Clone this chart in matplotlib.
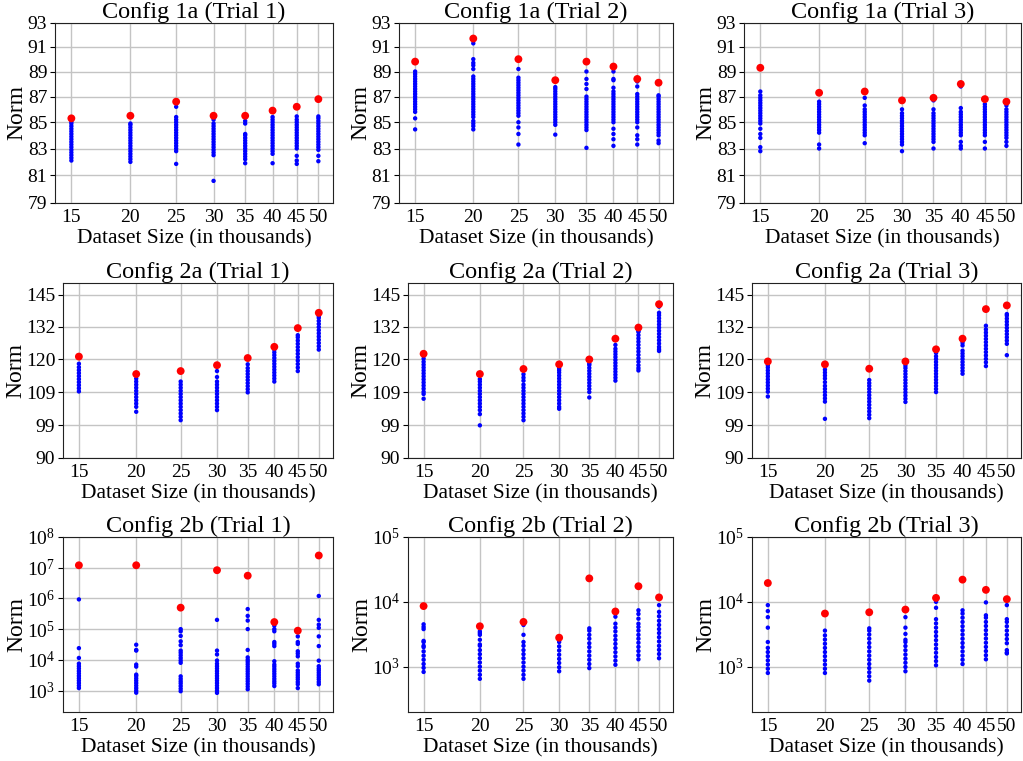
import matplotlib
matplotlib.use("Agg")
import matplotlib.pyplot as plt
from matplotlib.ticker import FixedLocator, FixedFormatter, NullLocator, LogLocator, LogFormatterSciNotation

plt.rcParams['font.family'] = ['Liberation Serif', 'DejaVu Serif']
plt.rcParams['mathtext.fontset'] = 'stix'

sizes = [15, 20, 25, 30, 35, 40, 45, 50]
size_labels = ['15', '20', '25', '30', '35', '40', '45', '50']

titles = ['Config 1a (Trial 1)', 'Config 1a (Trial 2)', 'Config 1a (Trial 3)',
          'Config 2a (Trial 1)', 'Config 2a (Trial 2)', 'Config 2a (Trial 3)',
          'Config 2b (Trial 1)', 'Config 2b (Trial 2)', 'Config 2b (Trial 3)']

c1a_t1_blue = [
    [82.1, 82.3, 82.5, 82.7, 82.9, 83.1, 83.3, 83.5, 83.7, 83.9, 84.1, 84.3, 84.5, 84.7, 84.9, 85.05],
    [82.0, 82.2, 82.4, 82.6, 82.8, 83.0, 83.2, 83.4, 83.6, 83.8, 84.0, 84.2, 84.4, 84.6, 84.8, 84.9],
    [81.85, 82.8, 83.0, 83.2, 83.4, 83.6, 83.8, 84.0, 84.2, 84.4, 84.6, 84.8, 85.0, 85.2, 85.4, 86.2],
    [80.6, 82.5, 82.7, 82.9, 83.1, 83.3, 83.5, 83.7, 83.9, 84.1, 84.3, 84.5, 84.7, 84.9, 85.2],
    [81.9, 82.2, 82.4, 82.6, 82.8, 83.0, 83.2, 83.4, 83.6, 83.8, 84.0, 84.1, 84.9, 85.1],
    [81.9, 82.6, 82.8, 83.0, 83.2, 83.4, 83.6, 83.8, 84.0, 84.2, 84.4, 84.6, 84.8, 85.0, 85.2, 85.4],
    [81.85, 82.1, 82.45, 83.0, 83.2, 83.4, 83.6, 83.8, 84.0, 84.2, 84.4, 84.6, 84.8, 85.0, 85.2, 85.45],
    [82.05, 82.45, 82.9, 83.1, 83.3, 83.5, 83.7, 83.9, 84.1, 84.3, 84.5, 84.7, 84.9, 85.1, 85.3, 85.45],
]
c1a_t1_red = [85.3, 85.5, 86.6, 85.5, 85.5, 85.9, 86.2, 86.8]

c1a_t2_blue = [
    [84.45, 85.3, 85.8, 86.0, 86.2, 86.4, 86.6, 86.8, 87.0, 87.2, 87.4, 87.6, 87.8, 88.0, 88.2, 88.4, 88.6, 88.8, 89.0],
    [84.45, 84.7, 84.9, 85.1, 85.4, 85.6, 85.8, 86.0, 86.2, 86.4, 86.6, 86.8, 87.0, 87.2, 87.4, 87.6, 87.8, 88.0, 88.2, 88.4, 88.6, 89.2, 89.5, 89.7, 90.0, 91.3],
    [83.3, 84.1, 84.6, 85.0, 85.5, 85.7, 85.9, 86.1, 86.3, 86.5, 86.7, 86.9, 87.1, 87.3, 87.5, 87.7, 87.9, 88.1, 88.3, 88.5, 89.2],
    [84.05, 84.8, 85.0, 85.2, 85.4, 85.6, 85.8, 86.0, 86.2, 86.4, 86.6, 86.8, 87.0, 87.2, 87.4, 87.6, 87.75],
    [83.05, 84.4, 84.6, 84.8, 85.0, 85.2, 85.4, 85.6, 85.8, 86.0, 86.2, 86.4, 86.6, 86.8, 87.0, 87.6, 88.0, 88.4, 89.0],
    [83.2, 83.7, 84.1, 84.5, 85.0, 85.2, 85.4, 85.6, 85.8, 86.0, 86.2, 86.4, 86.6, 86.8, 87.0, 87.2, 87.4, 87.7, 88.3, 88.4, 89.0],
    [83.3, 83.7, 84.0, 84.6, 85.0, 85.2, 85.4, 85.6, 85.8, 86.0, 86.2, 86.4, 86.6, 86.8, 87.0, 87.2, 87.8, 88.2],
    [83.4, 83.6, 84.0, 84.2, 84.4, 84.6, 84.8, 85.0, 85.2, 85.4, 85.6, 85.8, 86.0, 86.2, 86.4, 86.6, 86.8, 87.0, 87.1],
]
c1a_t2_red = [89.8, 91.7, 90.0, 88.3, 89.8, 89.4, 88.4, 88.1]

c1a_t3_blue = [
    [82.8, 83.1, 83.8, 84.1, 84.5, 84.9, 85.1, 85.3, 85.5, 85.7, 85.9, 86.1, 86.3, 86.5, 86.7, 86.9, 87.1, 87.4],
    [83.0, 83.3, 84.2, 84.4, 84.6, 84.8, 85.0, 85.2, 85.4, 85.6, 85.8, 86.0, 86.2, 86.4, 86.6],
    [83.4, 84.0, 84.2, 84.4, 84.6, 84.8, 85.0, 85.2, 85.4, 85.6, 85.8, 86.0, 86.3, 86.9],
    [82.8, 83.3, 83.5, 83.7, 83.9, 84.1, 84.3, 84.5, 84.7, 84.9, 85.1, 85.3, 85.5, 85.7, 86.0, 86.6],
    [83.0, 83.5, 83.7, 83.9, 84.1, 84.3, 84.5, 84.7, 84.9, 85.1, 85.3, 85.5, 85.7, 86.0, 86.7],
    [83.0, 83.2, 83.5, 84.0, 84.2, 84.4, 84.6, 84.8, 85.0, 85.2, 85.4, 85.6, 85.8, 86.1, 87.8],
    [83.0, 83.5, 84.0, 84.2, 84.4, 84.6, 84.8, 85.0, 85.2, 85.4, 85.6, 85.8, 86.0, 86.2, 86.4],
    [83.2, 83.5, 83.8, 84.0, 84.2, 84.4, 84.6, 84.8, 85.0, 85.2, 85.4, 85.6, 85.8, 86.0, 86.3],
]
c1a_t3_red = [89.3, 87.3, 87.4, 86.7, 86.9, 88.0, 86.8, 86.6]

c2a_t1_blue = [
    [109.3, 110.3, 111.3, 112.3, 113.3, 114.3, 115.3, 116.3, 117.3, 118.5],
    [103, 104.5, 105.5, 106.5, 107.5, 108.5, 109.5, 110.5, 111.5, 112.5, 113.5],
    [100.5, 101.5, 102.5, 103.5, 104.5, 105.5, 106.5, 107.5, 108.5, 109.5, 110.5, 111.5, 112.5],
    [103.5, 104.5, 105.5, 106.5, 107.5, 108.5, 109.5, 110.5, 111.5, 112.5, 114, 116],
    [109, 110, 111, 112, 113, 114, 115, 116, 117, 118.3],
    [112.5, 113.5, 114.5, 115.5, 116.5, 117.5, 118.5, 119.5, 120.5, 121.5, 122.5, 123.5],
    [116, 117.2, 118.4, 119.6, 120.8, 122, 123.2, 124.4, 125.6, 126.8, 128, 128.8],
    [123.5, 124.7, 125.9, 127.1, 128.3, 129.5, 130.7, 131.9, 133.1, 134.3, 135.5, 136.2],
]
c2a_t1_red = [121, 115, 116, 118, 120.5, 124.5, 131.5, 137.5]

c2a_t2_blue = [
    [107, 108.5, 109.2, 110.2, 111.2, 112.2, 113.2, 114.2, 115.2, 116.2, 117.2, 118.2, 119.2, 120.3],
    [99, 102.3, 103.5, 104.5, 105.5, 106.5, 107.5, 108.5, 109.5, 110.5, 111.5, 112.5, 113.3],
    [100.5, 101.5, 102.5, 103.5, 104.5, 105.5, 106.5, 107.5, 108.5, 109.5, 110.5, 111.5, 112.8, 113.8, 114.9],
    [103.9, 104.5, 105.5, 106.5, 107.5, 108.5, 109.5, 110.5, 111.5, 112.5, 113.5, 114.5, 115.5, 116.3, 117],
    [107.4, 109.1, 110.1, 111.1, 112.1, 113.1, 114.1, 115.1, 116.1, 117.1, 118.1, 118.6],
    [112.8, 113.8, 114.8, 115.8, 116.8, 117.8, 118.8, 119.8, 120.8, 121.8, 122.8, 123.8, 125.2],
    [116.2, 117, 118, 119.2, 120.4, 121.6, 122.8, 124, 125.2, 126.4, 127.6, 128.8, 130, 130.5],
    [123, 123.6, 124.5, 125.7, 126.9, 128.1, 129.3, 130.5, 131.7, 132.9, 134.1, 135.3, 136.5, 137.5, 140],
]
c2a_t2_red = [122, 115, 116.7, 118.3, 120, 127.5, 131.7, 141]

c2a_t3_blue = [
    [107.7, 109.2, 110.2, 111.2, 112.2, 113.2, 114.2, 115.2, 116.2, 117.2, 118],
    [100.9, 106.1, 107.1, 108.1, 109.1, 110.1, 111.1, 112.3, 113.5, 114.5, 115.5, 116.5],
    [101.1, 102.1, 103.1, 104.1, 105.1, 106.1, 107.1, 108.1, 109.1, 110.1, 111.1, 112, 113],
    [106, 107, 108, 109, 110, 111, 112, 113, 114, 115, 116, 117, 117.8],
    [109.1, 110.1, 111.1, 112.1, 113.1, 114.1, 115.1, 116.1, 117.1, 118.1, 119.1, 120.1, 121.1, 122.3],
    [115.1, 116.1, 117.1, 118.1, 119.1, 120.1, 121.1, 122.1, 123.1, 125, 126],
    [117.7, 119, 120.2, 121.4, 122.6, 123.8, 125, 126.2, 127.4, 128.6, 129.8, 131, 132.4],
    [121.5, 125.6, 126.8, 128, 129.2, 130.4, 131.6, 132.8, 134, 135.2, 136.4, 137],
]
c2a_t3_red = [119.3, 118.3, 116.8, 119.3, 123.6, 127.5, 139, 140.5]

c2b_t1_blue = [
    [1200, 1450, 1750, 2100, 2500, 3000, 3600, 4300, 5200, 6200, 7500, 11500, 24000, 930000],
    [850, 1000, 1200, 1450, 1750, 2100, 2500, 3000, 3300, 6000, 7000, 20000, 21000, 31000],
    [950, 1150, 1400, 1700, 2000, 2400, 2900, 8000, 9500, 11500, 14000, 17000, 20000, 30000, 40000, 60000, 85000, 100000],
    [840, 1000, 1200, 1450, 1750, 2100, 2500, 3000, 3600, 4300, 5200, 6200, 7500, 9500, 15000, 20000, 200000, 7500000],
    [1100, 1350, 1650, 2000, 2400, 2900, 3500, 4200, 5000, 6000, 7200, 8600, 10000, 12000, 21000, 100000, 190000, 270000, 450000],
    [1400, 1700, 2000, 2400, 2900, 3500, 4200, 5000, 6000, 7000, 9000, 28000, 33000, 38000, 85000, 100000, 130000],
    [1200, 1600, 1900, 2300, 2700, 3200, 3800, 4500, 6200, 7500, 13000, 16000, 19000, 33000, 38000, 58000],
    [1600, 1900, 2300, 2700, 3200, 3800, 4500, 5200, 6200, 9400, 28000, 58000, 110000, 140000, 200000, 1200000],
]
c2b_t1_red = [1.2e7, 1.2e7, 5e5, 8.3e6, 5.5e6, 1.7e5, 8.9e4, 2.5e7]

c2b_t2_blue = [
    [830, 960, 1100, 1280, 1480, 1720, 2000, 2100, 2400, 2500, 3800, 4100, 4500],
    [650, 750, 870, 1000, 1160, 1350, 1560, 1800, 2100, 2200, 2600, 3100, 3300, 3500],
    [650, 750, 870, 1000, 1160, 1350, 1560, 1800, 2100, 2400, 3100, 4400],
    [850, 980, 1140, 1320, 1530, 1780, 2060, 2400],
    [950, 1100, 1280, 1480, 1720, 2000, 2300, 2700, 3100, 3600, 3900],
    [1070, 1240, 1440, 1670, 1940, 2250, 2600, 3000, 3500, 4000, 4600, 5900],
    [1300, 1500, 1740, 2020, 2340, 2700, 3100, 3600, 4100, 4600, 5500, 6500, 7400],
    [1350, 1570, 1820, 2100, 2450, 2850, 3300, 3800, 4400, 5100, 6000, 7000, 8900],
]
c2b_t2_red = [8600, 4200, 4900, 2800, 23000, 7100, 17400, 11700]

c2b_t3_blue = [
    [800, 930, 1080, 1250, 1450, 1680, 1950, 2400, 4000, 5800, 7200, 8900],
    [800, 930, 1080, 1250, 1450, 1680, 1950, 2260, 2620, 3040, 3600],
    [610, 710, 820, 950, 1100, 1280, 1480, 1720, 2000, 2320, 2700, 3130, 3600, 3900],
    [850, 990, 1150, 1330, 1540, 1790, 2080, 2400, 2600, 3200, 4000, 5800],
    [1050, 1220, 1410, 1640, 1900, 2200, 2560, 2970, 3440, 4000, 4650, 5400, 8100, 10000],
    [1100, 1280, 1480, 1720, 2000, 2320, 2700, 3130, 3630, 4200, 4900, 5700, 6600, 7400],
    [1300, 1500, 1740, 2020, 2340, 2720, 3150, 3650, 4240, 4900, 5700, 6200, 9800],
    [1600, 1650, 1800, 2300, 2670, 3100, 3600, 4200, 4900, 5400, 8900],
]
c2b_t3_red = [19500, 6600, 6900, 7600, 11500, 22000, 15300, 11000]

row1_ticks = [79, 81, 83, 85, 87, 89, 91, 93]
row2_ticks = [90, 99, 109, 120, 132, 145]

blues = [c1a_t1_blue, c1a_t2_blue, c1a_t3_blue, c2a_t1_blue, c2a_t2_blue, c2a_t3_blue,
         c2b_t1_blue, c2b_t2_blue, c2b_t3_blue]
reds = [c1a_t1_red, c1a_t2_red, c1a_t3_red, c2a_t1_red, c2a_t2_red, c2a_t3_red,
        c2b_t1_red, c2b_t2_red, c2b_t3_red]

W, H = 1023, 761
fig = plt.figure(figsize=(W / 100, H / 100), dpi=100)

# axes boxes in pixels: (left, right) per column for each row, (top, bottom) per row
row_cols = [
    [(55, 333), (399, 673), (744, 1021)],
    [(63, 333), (408, 673), (752, 1021)],
    [(63, 333), (408, 673), (752, 1021)],
]
row_tb = [(23, 203), (283, 458), (537, 712)]

axes = []
for r in range(3):
    t, b = row_tb[r]
    for (l, rr) in row_cols[r]:
        axes.append(fig.add_axes([l / W, 1 - b / H, (rr - l) / W, (b - t) / H]))

for i, ax in enumerate(axes):
    ax.set_xscale('log')
    ax.set_yscale('log')
    bx, by = [], []
    for s, vals in zip(sizes, blues[i]):
        bx.extend([s] * len(vals))
        by.extend(vals)
    ax.scatter(bx, by, s=10, color='blue', edgecolors='none', zorder=3)
    ax.scatter(sizes, reds[i], s=32, color='red', edgecolors='none', zorder=4)
    ax.set_xlim(13.85, 53.7)
    ax.xaxis.set_major_locator(FixedLocator(sizes))
    ax.xaxis.set_major_formatter(FixedFormatter(size_labels))
    ax.xaxis.set_minor_locator(NullLocator())
    row = i // 3
    if row == 0:
        ax.set_ylim(79, 93)
        ax.yaxis.set_major_locator(FixedLocator(row1_ticks))
        ax.yaxis.set_major_formatter(FixedFormatter([str(t) for t in row1_ticks]))
    elif row == 1:
        ax.set_ylim(90, 150)
        ax.yaxis.set_major_locator(FixedLocator(row2_ticks))
        ax.yaxis.set_major_formatter(FixedFormatter([str(t) for t in row2_ticks]))
    else:
        if i == 6:
            ax.set_ylim(200, 1e8)
        else:
            ax.set_ylim(200, 1e5)
        ax.yaxis.set_major_locator(LogLocator(base=10, numticks=12))
        ax.yaxis.set_major_formatter(LogFormatterSciNotation())
    ax.yaxis.set_minor_locator(NullLocator())
    ax.grid(True, color='#c4c4c4', linewidth=1.0, zorder=0)
    ax.set_axisbelow(True)
    ax.tick_params(axis='x', length=0, labelsize=14, pad=4)
    ax.tick_params(axis='y', length=3.5, labelsize=14, pad=2)
    ax.set_title(titles[i], fontsize=17.5, pad=3)
    ax.set_xlabel('Dataset Size (in thousands)', fontsize=15.5, labelpad=2.5)
    ax.set_ylabel('Norm', fontsize=17, labelpad=0)
    for sp in ax.spines.values():
        sp.set_color('#222222')

fig.savefig('out.png', dpi=100)
